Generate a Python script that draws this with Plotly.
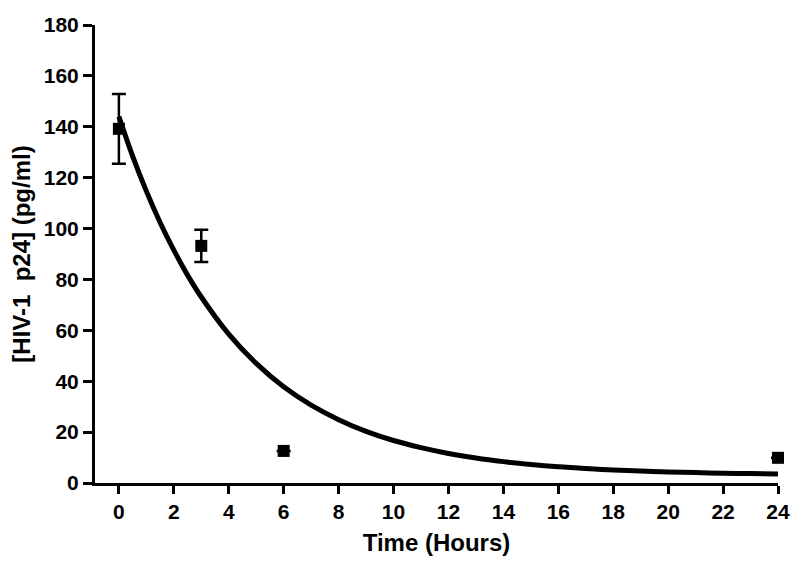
import plotly.graph_objects as go

# Measured data (mean ± SEM)
time_h = [0, 3, 6, 24]
p24 = [139.2, 93.2, 12.6, 9.9]
p24_err = [13.7, 6.3, 0, 0]

# Fitted decay curve
curve_t = [0, 0.5, 1, 1.5, 2, 2.5, 3, 4, 5, 6, 7, 8, 9, 10, 11, 12,
           13, 14, 15, 16, 17, 18, 19, 20, 21, 22, 23, 24]
curve_y = [144, 128.5, 114.7, 102.4, 91.5, 81.7, 73.1, 58.5, 47.0, 37.8,
           30.6, 24.9, 20.3, 16.7, 13.9, 11.6, 9.8, 8.4, 7.3, 6.4, 5.7,
           5.1, 4.7, 4.3, 4.1, 3.8, 3.7, 3.5]

x_ticks = list(range(0, 25, 2))
y_ticks = list(range(0, 181, 20))

FONT = "Liberation Sans, Arial, Helvetica, sans-serif"

fig = go.Figure()
fig.add_trace(go.Scatter(
    x=curve_t, y=curve_y, mode="lines",
    line=dict(color="black", width=5, shape="spline"),
    hoverinfo="skip", showlegend=False, cliponaxis=False,
))
fig.add_trace(go.Scatter(
    x=time_h, y=p24, mode="markers",
    marker=dict(symbol="square", size=12, color="black"),
    error_y=dict(type="data", array=p24_err, visible=True,
                 color="black", thickness=2.5, width=7),
    showlegend=False, cliponaxis=False,
))

fig.update_layout(
    width=792, height=554,
    margin=dict(l=87, r=22, t=17, b=79, autoexpand=False),
    paper_bgcolor="white", plot_bgcolor="white",
    font=dict(family=FONT, color="black", size=21, weight="bold"),
    xaxis=dict(
        range=[-0.87, 24], tickvals=x_ticks, ticktext=[str(v) for v in x_ticks],
        automargin=False,
        showgrid=False, zeroline=False, showline=True, linecolor="black",
        linewidth=3, ticks="outside", ticklen=8, tickwidth=3, tickcolor="black",
        tickfont=dict(family=FONT, size=21, weight="bold"),
        title=dict(text="Time (Hours)", standoff=12,
                   font=dict(family=FONT, size=24, weight="bold")),
    ),
    yaxis=dict(
        range=[0, 180], tickvals=y_ticks, ticktext=[str(v) for v in y_ticks],
        automargin=False,
        showgrid=False, zeroline=False, showline=True, linecolor="black",
        linewidth=3, ticks="outside", ticklen=9, tickwidth=3, tickcolor="black",
        tickfont=dict(family=FONT, size=21, weight="bold"),
        title=dict(text="[HIV-1  p24] (pg/ml)", standoff=8,
                   font=dict(family=FONT, size=24, weight="bold")),
    ),
)

fig.write_html("out.html")
